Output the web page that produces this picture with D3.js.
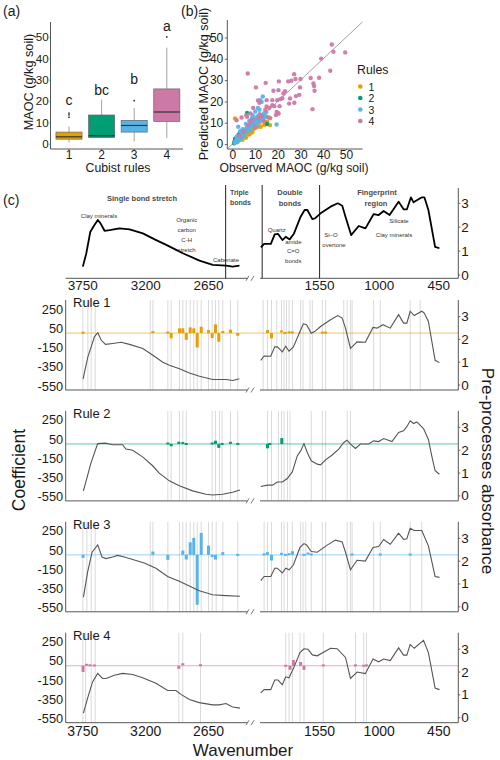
<!DOCTYPE html>
<html><head><meta charset="utf-8">
<script src="https://cdn.jsdelivr.net/npm/d3@7"></script>
<style>body{margin:0;background:#fff}svg{display:block}</style>
</head><body>
<svg id="c" width="500" height="760"></svg>
<script>
// ---------------- DATA ----------------
const boxRules = ['1','2','3','4'];
const ruleColors = ['#E69F00','#009E73','#56B4E9','#CC79A7'];
const boxLow = [0.6, 2.8, 1.1, 2.7];
const boxQ1 = [2.2, 3.0, 5.5, 10.5];
const boxMedian = [3.3, 3.8, 8.6, 14.9];
const boxQ3 = [5.5, 13.5, 11.0, 25.7];
const boxHigh = [8.1, 20.7, 16.8, 45.0];
const boxOutliers = [[12.5, 13.6, 14.4], [], [20.2], [50.0]];
const boxLetters = ['c', 'bc', 'b', 'a'];
const letterLevel = [18.3, 23.0, 27.8, 52.8];
const maocTicks = [0, 10, 20, 30, 40, 50];

// panel (b): [observed, predicted]
const rule1Points = [[1.2,12],[20.3,14.4],[0.8,0.5],[1.0,1.2],[1.5,0.8],[1.8,1.5],[2.0,2.2],[2.3,1.0],[2.6,2.8],[3.0,1.8],[3.2,3.4],[3.5,2.5],[4.0,3.0],[4.2,4.5],[4.5,2.0],[5.0,3.5],[5.3,5.0],[5.5,4.2],[6.0,3.0],[6.2,5.5],[6.5,6.5],[7.0,4.5],[7.1,5.8],[7.5,7.0],[7.6,4.6],[8.0,6.2],[8.5,8.0],[8.8,5.5],[9.2,6.9],[9.5,9.0],[10.0,7.5],[10.5,9.5],[10.7,9.3],[11.0,8.0],[11.5,12.0],[12.0,10.0],[12.5,8.1],[12.9,13.6],[13.0,11.5],[13.7,11.2],[14.0,9.0],[14.7,9.7],[15.1,12.8],[15.4,10.5],[16.6,8.9],[3.8,4.0],[2.8,2.0],[6.8,7.5],[9.8,10.5],[11.8,11.0]];
const rule2Points = [[6.5,14.6],[15.3,9.4],[1.0,1.0],[1.5,2.0],[2.0,1.5],[2.2,3.0],[2.6,3.3],[3.0,2.5],[3.3,4.0],[3.8,3.2],[4.2,5.0],[1.2,2.5],[2.8,4.5],[3.5,5.5],[5.0,6.0],[0.8,0.4]];
const rule3Points = [[13.4,22.3],[12.3,20.6],[12.9,19.8],[12.0,16.1],[11.3,16.9],[10.1,15.3],[8.6,12.2],[19.5,9.2],[2.6,8.1],[1.0,0.6],[1.5,1.2],[1.8,2.0],[2.2,1.0],[2.5,2.6],[3.0,3.5],[3.2,2.2],[3.6,4.0],[4.0,3.0],[4.3,5.0],[4.8,4.2],[5.0,6.0],[5.5,5.2],[5.8,7.0],[6.2,6.0],[6.5,8.0],[7.0,7.0],[7.3,9.0],[7.8,8.2],[8.2,10.0],[8.8,9.0],[9.2,11.0],[9.6,10.0],[10.0,12.0],[10.5,11.0],[11.0,13.0],[11.5,10.5],[12.0,12.5],[12.5,11.0],[13.0,13.5],[13.5,12.0],[14.0,14.5],[14.5,13.0],[9.0,13.5],[7.5,11.0],[6.0,9.5],[4.5,7.0],[3.5,6.0],[15.0,15.0],[8.0,6.5],[10.8,8.5],[5.2,3.8],[2.0,3.5]];
const rule4Points = [[43.8,46.7],[44.5,43.3],[49.7,43],[39.1,40.1],[43.1,34.4],[38.2,31.1],[27.2,32.8],[27.8,30.5],[26,29.7],[35.7,28.4],[36,27.2],[36.2,25],[29.8,26.6],[24.6,29.4],[20.5,29.4],[18.1,25],[20.3,25.3],[23.2,24.8],[22.5,23.7],[25.4,21.4],[28,22.5],[29.5,23.1],[27.3,19.4],[21.2,21.1],[19.8,20.6],[17.6,20.6],[6.8,33.1],[14.7,28.7],[10.4,26.6],[11.3,20.5],[11.9,19.4],[18.5,17.8],[35.3,16.4],[19.5,15.1],[20.3,14.4],[16.3,16.9],[15.1,17.6],[14.5,16.1],[19.2,13.6],[6.5,12.8],[8,14.4],[4.1,12.5],[1.9,11.2],[20.8,17.8],[17.6,18.2],[15.1,20.6],[9.2,16.9],[6.1,13.6],[11.6,12.2],[16.7,12.2],[14,10.7],[12,14],[10,8],[8,10.5],[5,6],[13,13],[25,19],[30,30.5],[34.5,31],[22,21.5],[16,12.5],[9,11.5],[3,4],[7,9]];
const scatterTicks = [0, 10, 20, 30, 40, 50];

// panel (c): wavenumber tick labels
const leftWnTicks = [3750, 3200, 2650];
const rightWnTicks = [1550, 1000, 450];
const coefTicks = [250, 50, -150, -350, -550];
const absTicks = [0, 1, 2, 3];
const regionLines = [2500, 2080, 1550];

// mean spectra [wavenumber, absorbance]
const spectrumAllLeft = [[3750,0.35],[3720,0.9],[3685,1.8],[3654,2.05],[3619,2.3],[3595,2.16],[3560,1.85],[3516,1.88],[3429,1.95],[3341,1.91],[3225,1.74],[3108,1.46],[3020,1.26],[2933,1.05],[2875,0.91],[2729,0.6],[2613,0.42],[2495,0.39],[2438,0.35],[2379,0.39]];
const spectrumAllRight = [[2092,1.16],[2062,1.3],[2000,1.3],[1964,1.7],[1933,1.72],[1893,1.46],[1863,1.6],[1826,1.49],[1786,1.74],[1725,2.44],[1688,2.72],[1663,2.72],[1617,2.34],[1593,2.37],[1541,2.58],[1449,2.86],[1382,3.0],[1341,2.9],[1311,2.44],[1259,1.67],[1189,2.05],[1127,1.95],[1051,2.55],[1005,2.51],[959,2.68],[904,2.51],[821,3.07],[775,2.75],[744,2.75],[707,3.25],[683,3.04],[606,3.25],[583,3.25],[546,2.72],[484,1.18],[444,1.12]];

const rule1SpecLeft = [[3748,0.27],[3706,1.23],[3677,1.67],[3648,2.12],[3619,2.29],[3590,1.97],[3552,1.78],[3488,1.82],[3415,1.87],[3342,1.78],[3225,1.6],[3137,1.3],[3050,1.0],[2992,0.86],[2904,0.71],[2817,0.53],[2729,0.38],[2613,0.24],[2496,0.24],[2438,0.2],[2380,0.27]];
const rule1SpecRight = [[2093,1.08],[2062,1.27],[2001,1.26],[1964,1.67],[1940,1.67],[1894,1.45],[1863,1.7],[1832,1.48],[1792,1.67],[1731,2.34],[1700,2.68],[1670,2.64],[1627,2.27],[1596,2.34],[1541,2.56],[1449,2.86],[1382,3.04],[1342,2.93],[1311,2.49],[1265,1.6],[1204,1.89],[1128,1.87],[1057,2.52],[1020,2.49],[965,2.64],[898,2.49],[821,3.08],[775,2.71],[745,2.71],[714,3.23],[677,3.04],[607,3.23],[586,3.16],[546,2.78],[484,1.08],[444,0.98]];
const rule2SpecLeft = [[3745,0.22],[3678,1.46],[3620,2.29],[3553,2.31],[3489,2.24],[3402,2.24],[3373,2.05],[3314,2.0],[3227,1.71],[3139,1.32],[3081,1.0],[2993,0.66],[2906,0.44],[2789,0.22],[2672,0.07],[2614,0.04],[2527,0.07],[2439,0.16],[2375,0.26]];
const rule2SpecRight = [[2093,0.41],[2031,0.47],[1985,0.47],[1940,0.61],[1894,0.61],[1848,0.76],[1802,1.05],[1756,1.75],[1725,1.97],[1694,2.29],[1664,1.9],[1627,1.54],[1572,1.39],[1541,1.36],[1495,1.58],[1434,1.79],[1373,2.05],[1327,2.34],[1296,2.44],[1265,2.27],[1219,2.08],[1173,2.27],[1097,2.27],[1051,2.41],[1005,2.38],[959,2.51],[882,2.38],[821,2.78],[775,2.85],[745,3.03],[714,3.29],[683,3.17],[653,3.24],[591,2.95],[546,2.47],[515,1.75],[484,1.1],[444,0.95]];
const rule3SpecLeft = [[3745,0.42],[3707,1.55],[3669,2.39],[3620,2.71],[3582,2.18],[3547,2.11],[3489,2.18],[3445,2.25],[3387,2.18],[3314,2.07],[3212,1.92],[3110,1.69],[3008,1.33],[2906,1.12],[2818,0.91],[2731,0.7],[2614,0.53],[2497,0.49],[2375,0.46]];
const rule3SpecRight = [[2093,1.15],[2062,1.33],[2001,1.33],[1964,1.69],[1940,1.69],[1894,1.48],[1863,1.69],[1832,1.62],[1792,1.83],[1731,2.6],[1694,2.77],[1670,2.71],[1627,2.42],[1572,2.39],[1480,2.7],[1403,2.92],[1342,2.84],[1311,2.39],[1265,1.62],[1204,2.04],[1128,2.0],[1057,2.6],[1005,2.64],[959,2.95],[898,2.74],[821,3.23],[775,2.95],[745,2.98],[714,3.44],[677,3.34],[607,3.34],[546,2.67],[484,1.33],[444,1.29]];
const rule4SpecLeft = [[3745,0.2],[3707,0.88],[3664,1.58],[3620,1.94],[3577,1.72],[3547,1.72],[3474,1.86],[3402,1.94],[3314,1.89],[3227,1.75],[3110,1.51],[3008,1.19],[2935,1.19],[2891,1.02],[2818,0.8],[2731,0.66],[2614,0.56],[2556,0.56],[2497,0.62],[2439,0.47],[2375,0.42]];
const rule4SpecRight = [[2093,1.09],[2062,1.23],[2001,1.23],[1964,1.65],[1933,1.65],[1894,1.44],[1863,1.79],[1832,1.75],[1792,2.15],[1731,2.85],[1694,3.02],[1657,3.0],[1617,2.75],[1572,2.71],[1449,3.04],[1388,3.02],[1311,2.64],[1265,1.72],[1204,2.0],[1128,1.93],[1057,2.57],[1005,2.45],[959,2.57],[898,2.5],[821,3.06],[775,2.74],[745,2.74],[714,3.21],[677,3.04],[591,3.39],[546,2.85],[484,1.3],[444,1.23]];

// selected wavenumbers (grey lines) and coefficients [wavenumber, coefficient]
const rule1Lines = [3750,3706,3677,3642,3160,3137,3006,2977,2904,2875,2845,2810,2779,2749,2714,2650,2618,2589,2560,2525,2458,2394,2071,2031,1994,1945,1902,1878,1856,1832,1801,1725,1703,1639,1617,1525,1495,1327,1296,1265,1250,1051,990,714,622];
const rule1Coefs = [[3748,4],[3137,10],[3006,5],[2977,-55],[2904,49],[2875,49],[2845,-70],[2810,59],[2779,49],[2749,-150],[2714,66],[2650,31],[2618,-52],[2589,90],[2560,-90],[2525,21],[2458,35],[2394,-28],[2031,31],[1994,-55],[1902,17],[1870,-14],[1832,7],[1801,7],[1525,5],[1495,5]];
const rule2Lines = [3006,2977,2904,2875,2845,2618,2589,2554,2531,2458,2394,2031,1994,1930,1902,1878,1847,1823,1627,1525,1495,1296,1265];
const rule2Coefs = [[3006,5],[2977,-24],[2910,24],[2875,10],[2845,-5],[2618,5],[2589,34],[2560,-41],[2531,-5],[2458,12],[2394,-5],[2031,-45],[2010,-8],[1899,61]];
const rule3Lines = [3750,3715,3677,3642,3160,3137,3006,2904,2875,2845,2810,2779,2749,2714,2650,2618,2583,2525,2394,2062,2031,1994,1902,1878,1847,1801,1725,1703,1678,1627,1525,1495,1296,1265,1250,1051,990,714,607];
const rule3Coefs = [[3748,-31],[3137,35],[3006,-52],[2875,45],[2845,-48],[2810,131],[2779,176],[2749,-518],[2714,228],[2650,97],[2618,-24],[2589,-48],[2525,28],[2394,-14],[2062,5],[2031,28],[1994,-59],[1902,21],[1863,-17],[1832,7],[1801,38],[1694,-14],[1657,14],[1627,4],[1250,4],[990,4],[714,4]];
const rule4Lines = [3750,3726,3677,3642,2910,2875,2720,1863,1832,1801,1731,1694,1516,1219,1143,1118];
const rule4Coefs = [[3748,-65],[3718,10],[3688,5],[3650,3],[2910,-32],[2875,16],[2720,6],[1863,-5],[1823,-42],[1792,61],[1725,39],[1694,-42],[1516,4],[1219,4],[1143,-4],[1118,4]];

// ---------------- DRAWING ----------------
const FONT = '"Liberation Sans", Arial, Helvetica, sans-serif';
const svg = d3.select('#c').attr('font-family', FONT);
const AX = '#444';

function txt(g, s, x, y, fs, opts={}) {
  const t = g.append('text').attr('x', x).attr('y', y).attr('font-size', fs)
    .attr('fill', opts.fill || '#1a1a1a').attr('text-anchor', opts.anchor || 'start').text(s);
  if (opts.weight) t.attr('font-weight', opts.weight);
  if (opts.rotate !== undefined) t.attr('transform', `rotate(${opts.rotate},${x},${y})`);
  if (opts.baseline) t.attr('dominant-baseline', opts.baseline);
  return t;
}
function line(g, x1, y1, x2, y2, stroke, w) {
  return g.append('line').attr('x1', x1).attr('y1', y1).attr('x2', x2).attr('y2', y2)
    .attr('stroke', stroke).attr('stroke-width', w);
}
function styleAxis(g, fs) {
  g.select('.domain').remove();
  g.selectAll('line').attr('stroke', AX).attr('stroke-width', 0.8);
  g.selectAll('text').attr('font-size', fs).attr('fill', '#1a1a1a').attr('font-family', FONT);
}

// ----- panel (a) -----
const gA = svg.append('g');
const xA = d3.scaleBand().domain(boxRules).range([52.7, 183.1]).paddingInner(0.2).paddingOuter(0.1);
const yA = d3.scaleLinear().domain([-2.4, 57]).range([149, 22]);
line(gA, 50.5, yA.range()[1], 50.5, yA.range()[0], AX, 0.9);
line(gA, 50.5, yA.range()[0], 183, yA.range()[0], AX, 0.9);
gA.append('g').attr('transform', 'translate(50.5,0)')
  .call(d3.axisLeft(yA).tickValues(maocTicks).tickSize(1).tickPadding(0.8)).call(styleAxis, 11.6);
gA.append('g').attr('transform', `translate(0,${yA.range()[0]})`)
  .call(d3.axisBottom(xA).tickSize(1).tickPadding(0)).call(styleAxis, 12);
boxRules.forEach((r, i) => {
  const x0 = xA(r), w = xA.bandwidth(), cx = x0 + w / 2;
  line(gA, cx, yA(boxHigh[i]), cx, yA(boxQ3[i]), '#999', 0.9);
  line(gA, cx, yA(boxQ1[i]), cx, yA(boxLow[i]), '#999', 0.9);
  gA.append('rect').attr('x', x0).attr('y', yA(boxQ3[i])).attr('width', w)
    .attr('height', yA(boxQ1[i]) - yA(boxQ3[i])).attr('fill', ruleColors[i])
    .attr('stroke', '#666').attr('stroke-width', 0.7);
  line(gA, x0, yA(boxMedian[i]), x0 + w, yA(boxMedian[i]), '#333', 1.2);
  boxOutliers[i].forEach(v => gA.append('circle').attr('cx', cx).attr('cy', yA(v)).attr('r', 0.9).attr('fill', '#333'));
  txt(gA, boxLetters[i], cx, yA(letterLevel[i]), 14, {anchor: 'middle'});
});
txt(gA, '(a)', 3, 16, 14);
txt(gA, 'MAOC (g/kg soil)', 33, 82, 12.7, {anchor: 'middle', rotate: -90});
txt(gA, 'Cubist rules', 118, 171.5, 12.3, {anchor: 'middle'});

// ----- panel (b) -----
const gB = svg.append('g');
const xB = d3.scaleLinear().domain([-2.2, 57.3]).range([227.3, 362.5]);
const yB = d3.scaleLinear().domain([-2.3, 58.2]).range([149, 20]);
line(gB, xB.range()[0], yB.range()[1], xB.range()[0], yB.range()[0], AX, 0.9);
line(gB, xB.range()[0], yB.range()[0], xB.range()[1], yB.range()[0], AX, 0.9);
gB.append('g').attr('transform', `translate(${xB.range()[0]},0)`)
  .call(d3.axisLeft(yB).tickValues(scatterTicks).tickSize(2.5).tickPadding(1.5)).call(styleAxis, 12);
gB.append('g').attr('transform', `translate(0,${yB.range()[0]})`)
  .call(d3.axisBottom(xB).tickValues(scatterTicks).tickSize(1).tickPadding(0)).call(styleAxis, 12);
line(gB, xB(-2.2), yB(-2.2), xB(57.3), yB(57.3), '#8a8a8a', 0.8);
[rule1Points, rule2Points, rule3Points, rule4Points].forEach((pts, i) => {
  gB.append('g').selectAll('circle').data(pts).join('circle')
    .attr('cx', d => xB(d[0])).attr('cy', d => yB(d[1])).attr('r', 2.2)
    .attr('fill', ruleColors[i]).attr('fill-opacity', 0.95);
});
txt(gB, '(b)', 181, 16, 14);
txt(gB, 'Predicted MAOC (g/kg soil)', 207.8, 84, 12.6, {anchor: 'middle', rotate: -90});
txt(gB, 'Observed MAOC (g/kg soil)', 294, 171.5, 12.2, {anchor: 'middle'});
txt(gB, 'Rules', 357, 74, 12.3);
boxRules.forEach((r, i) => {
  const yy = 86.5 + i * 11.5;
  gB.append('circle').attr('cx', 360.3).attr('cy', yy).attr('r', 2.3).attr('fill', ruleColors[i]);
  txt(gB, r, 368.5, yy, 10.5, {baseline: 'central'});
});

// ----- panel (c) -----
const gC = svg.append('g');
const xL = d3.scaleLinear().domain([3900, 2300]).range([65.7, 248.5]);
const xR = d3.scaleLinear().domain([2100, 270]).range([260, 458.3]);
const XR_AXIS = 458.3;

function breakMarks(g, y) {
  [247.5, 252.5].forEach(x => line(g, x - 1.5, y + 2.5, x + 1.5, y - 2.5, '#555', 0.8));
}
function bottomAxis(g, y) {
  line(g, xL.range()[0], y, xL.range()[1] - 1, y, AX, 0.9);
  line(g, xR.range()[0], y, xR.range()[1], y, AX, 0.9);
  breakMarks(g, y);
}
function rightAxis(g, yS, top, bottom) {
  line(g, XR_AXIS, top, XR_AXIS, bottom, AX, 0.9);
  absTicks.forEach(t => {
    line(g, XR_AXIS, yS(t), XR_AXIS + 2, yS(t), AX, 0.8);
    txt(g, t, XR_AXIS + 3, yS(t), 13.5, {baseline: 'central'});
  });
}
function wnLabels(g, y, fs) {
  leftWnTicks.forEach(t => txt(g, t, xL(t), y, fs, {anchor: 'middle'}));
  rightWnTicks.forEach(t => txt(g, t, xR(t), y, fs, {anchor: 'middle'}));
}

// top spectrum panel
const yTop = d3.scaleLinear().domain([0, 3]).range([275, 203.3]);
const topBottom = 278.3;
txt(gC, '(c)', 3, 205, 14);
bottomAxis(gC, topBottom);
rightAxis(gC, yTop, 188, topBottom);
wnLabels(gC, 290, 13.5);
regionLines.forEach(w => {
  const x = w > 2200 ? xL(w) : xR(w);
  line(gC, x, 185, x, topBottom, '#222', 1);
});
const lineL = d3.line().x(d => xL(d[0]));
const lineRt = d3.line().x(d => xR(d[0]));
gC.append('path').attr('d', lineL.y(d => yTop(d[1]))(spectrumAllLeft)).attr('fill', 'none').attr('stroke', '#000').attr('stroke-width', 1.8).attr('stroke-linejoin', 'round');
gC.append('path').attr('d', lineRt.y(d => yTop(d[1]))(spectrumAllRight)).attr('fill', 'none').attr('stroke', '#000').attr('stroke-width', 1.8).attr('stroke-linejoin', 'round');
const bold = {anchor: 'middle', weight: 'bold', fill: '#4a4a4a'};
const small = {anchor: 'middle', fill: '#333'};
[['Single bond stretch', 142, 201], ['Double', 290, 194.5], ['bonds', 290, 206], ['Fingerprint', 377, 194.5], ['region', 376, 206]]
  .forEach(d => txt(gC, d[0], d[1], d[2], 7.5, bold));
txt(gC, 'Triple', 230, 195, 7, {weight: 'bold', fill: '#4a4a4a'});
txt(gC, 'bonds', 230, 205, 7, {weight: 'bold', fill: '#4a4a4a'});
[['Clay minerals', 99, 217.7], ['Organic', 186.7, 222], ['carbon', 186.7, 232], ['C-H', 186.7, 242], ['stretch', 186.7, 251.5],
 ['Cabenate', 226, 261.5], ['Quartz', 276.7, 232], ['amide', 293.3, 243.5], ['C=O', 293.3, 253], ['bonds', 293.3, 263],
 ['Si–O', 331, 236.5], ['overtone', 334, 246.5], ['Silicate', 399, 223], ['Clay minerals', 394, 237]]
  .forEach(d => txt(gC, d[0], d[1], d[2], 6, small));

// rule panels
const rules = [
  {name: 'Rule 1', lines: rule1Lines, coefs: rule1Coefs, specL: rule1SpecLeft, specR: rule1SpecRight},
  {name: 'Rule 2', lines: rule2Lines, coefs: rule2Coefs, specL: rule2SpecLeft, specR: rule2SpecRight},
  {name: 'Rule 3', lines: rule3Lines, coefs: rule3Coefs, specL: rule3SpecLeft, specR: rule3SpecRight},
  {name: 'Rule 4', lines: rule4Lines, coefs: rule4Coefs, specL: rule4SpecLeft, specR: rule4SpecRight}
];
const xW = w => (w > 2200 ? xL(w) : xR(w));
rules.forEach((r, i) => {
  const g = gC.append('g');
  const pt = 309 + 110.9 * i;
  const yC = d3.scaleLinear().domain([250, -550]).range([pt, pt + 77]);
  const yAbs = d3.scaleLinear().domain([0, 3]).range([pt + 76, pt + 7.5]);
  const top = pt - 9, bottom = pt + 81;
  g.append('g').selectAll('line').data(r.lines).join('line')
    .attr('x1', d => xW(d)).attr('x2', d => xW(d)).attr('y1', top).attr('y2', bottom)
    .attr('stroke', '#d6d6d6').attr('stroke-width', 0.9);
  line(g, xL.range()[0], yC(0), XR_AXIS, yC(0), ruleColors[i], 1).attr('stroke-opacity', 0.6);
  g.append('g').selectAll('rect').data(r.coefs).join('rect')
    .attr('x', d => xW(d[0]) - 1.5).attr('width', 3)
    .attr('y', d => Math.min(yC(d[1]), yC(0)) - (Math.abs(yC(d[1]) - yC(0)) < 2 ? 1 : 0))
    .attr('height', d => Math.max(2, Math.abs(yC(d[1]) - yC(0))))
    .attr('fill', ruleColors[i]);
  g.append('path').attr('d', d3.line().x(d => xL(d[0])).y(d => yAbs(d[1]))(r.specL))
    .attr('fill', 'none').attr('stroke', '#555').attr('stroke-width', 1.1);
  g.append('path').attr('d', d3.line().x(d => xR(d[0])).y(d => yAbs(d[1]))(r.specR))
    .attr('fill', 'none').attr('stroke', '#555').attr('stroke-width', 1.1);
  line(g, xL.range()[0], top, xL.range()[0], bottom, AX, 0.9);
  coefTicks.forEach(t => {
    txt(g, t, xL.range()[0] - 2.5, yC(t), 12.8, {anchor: 'end', baseline: 'central'});
  });
  rightAxis(g, yAbs, top, bottom);
  bottomAxis(g, bottom);
  txt(g, r.name, 73, pt - 2, 13);
  if (i === 3) wnLabels(g, bottom + 13.5, 14);
});
txt(gC, 'Coefficient', 25, 470, 17.5, {anchor: 'middle', rotate: -90});
txt(gC, 'Pre-processes absorbance', 481.5, 471, 17.3, {anchor: 'middle', rotate: 90});
txt(gC, 'Wavenumber', 243, 755.5, 17, {anchor: 'middle'});
</script>
</body></html>
